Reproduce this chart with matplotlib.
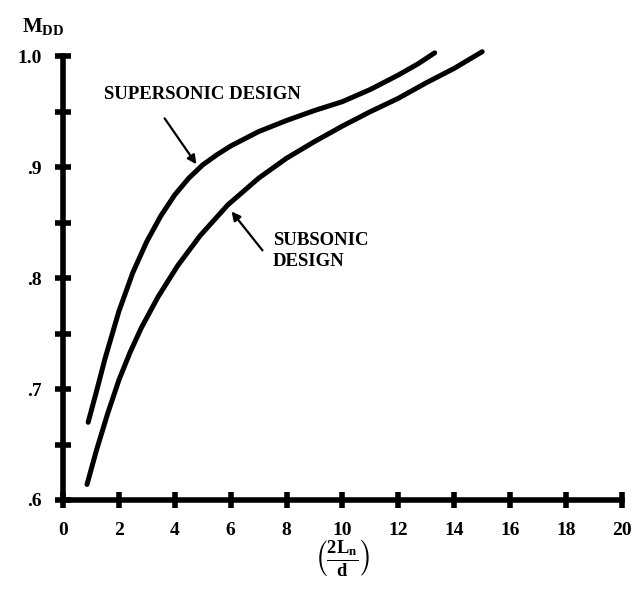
# M_DD versus nose fineness ratio, supersonic and subsonic design curves

import numpy as np
import matplotlib.pyplot as plt

plt.rcParams['font.family'] = 'Liberation Serif'
plt.rcParams['font.weight'] = 'bold'
plt.rcParams['mathtext.fontset'] = 'custom'
plt.rcParams['mathtext.rm'] = 'Liberation Serif:bold'
plt.rcParams['mathtext.it'] = 'Liberation Serif:bold'
plt.rcParams['mathtext.bf'] = 'Liberation Serif:bold'

# values
super_x = [0.9, 1.2, 1.5, 2.0, 2.5, 3.0, 3.5, 4.0, 4.5, 5.0, 5.5, 6.0, 7.0, 8.0, 9.0, 10.0, 11.0, 12.0, 12.7, 13.3]
super_y = [0.670, 0.698, 0.727, 0.770, 0.805, 0.833, 0.856, 0.875, 0.890, 0.902, 0.911, 0.919, 0.932, 0.942, 0.951, 0.959, 0.970, 0.983, 0.993, 1.003]

sub_x = [0.86, 1.2, 1.6, 2.0, 2.4, 2.8, 3.4, 4.1, 4.9, 5.9, 7.0, 8.0, 9.0, 10.0, 11.0, 12.0, 13.0, 14.0, 15.0]
sub_y = [0.614, 0.645, 0.678, 0.708, 0.733, 0.755, 0.783, 0.811, 0.838, 0.866, 0.890, 0.908, 0.923, 0.937, 0.950, 0.962, 0.976, 0.989, 1.004]

x_ticks = [0, 2, 4, 6, 8, 10, 12, 14, 16, 18, 20]
y_ticks = [0.6, 0.65, 0.7, 0.75, 0.8, 0.85, 0.9, 0.95, 1.0]
y_labels = ['.6', '', '.7', '', '.8', '', '.9', '', '1.0']

fig = plt.figure(figsize=(6.33, 5.91), dpi=100)
ax = fig.add_axes([0.0995, 0.154, 0.883, 0.751])

ax.plot(super_x, super_y, color='black', lw=3.6, solid_capstyle='round', solid_joinstyle='round', clip_on=False)
ax.plot(sub_x, sub_y, color='black', lw=3.6, solid_capstyle='round', solid_joinstyle='round', clip_on=False)

ax.set_xlim(0, 20)
ax.set_ylim(0.6, 1.0)
ax.set_xticks(x_ticks)
ax.set_yticks(y_ticks)
ax.set_yticklabels(y_labels)
ax.tick_params(direction='inout', length=11, width=4, labelsize=14, pad=10)
for lab in ax.get_xticklabels() + ax.get_yticklabels():
    lab.set_fontweight('bold')

for s in ['top', 'right']:
    ax.spines[s].set_visible(False)
for s in ['left', 'bottom']:
    ax.spines[s].set_linewidth(4)

# labels with arrows
ax.annotate('', xy=(4.83, 0.9005), xytext=(3.58, 0.946),
            arrowprops=dict(arrowstyle='-|>', color='black', lw=1.6, mutation_scale=13))
ax.text(1.45, 0.965, 'SUPERSONIC DESIGN', fontsize=13.5, fontweight='bold', va='center', ha='left')

ax.annotate('', xy=(5.97, 0.862), xytext=(7.2, 0.823),
            arrowprops=dict(arrowstyle='-|>', color='black', lw=1.6, mutation_scale=13))
ax.text(7.5, 0.834, 'SUBSONIC', fontsize=13.5, fontweight='bold', va='center', ha='left')
ax.text(7.5, 0.815, 'DESIGN', fontsize=13.5, fontweight='bold', va='center', ha='left')

fig.text(0.035, 0.955, r'$\mathregular{M_{DD}}$', fontsize=15, fontweight='bold', va='center', ha='left')
ax.text(10, 0.547, r'$\left(\mathregular{\frac{2L_n}{d}}\right)$', fontsize=19, ha='center', va='center')

plt.savefig('out.png', dpi=100)
